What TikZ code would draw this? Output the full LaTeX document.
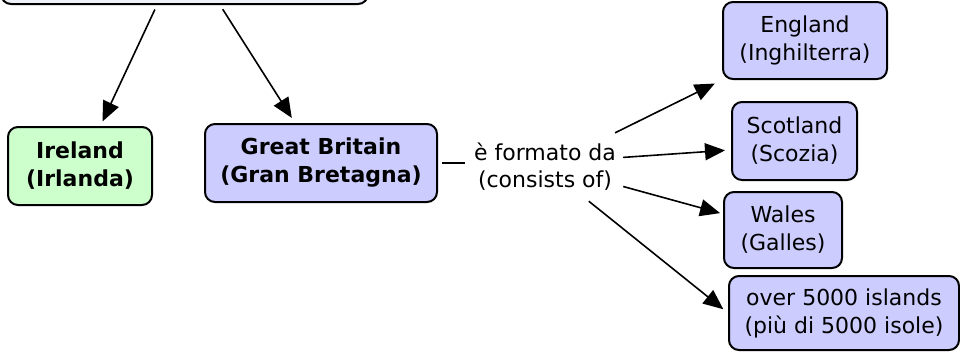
\documentclass[tikz,border=0pt]{standalone}
\usepackage{fontspec}
\setmainfont{DejaVu Sans}
\usepackage{tikz}
\usetikzlibrary{arrows.meta}

\definecolor{boxblue}{RGB}{204,204,255}
\definecolor{boxgreen}{RGB}{204,255,204}
\definecolor{boxpale}{RGB}{238,242,248}

\begin{document}
\begin{tikzpicture}
        [
          x=1pt, y=-1pt,
          box/.style={draw=black, line width=2pt, rounded corners=10pt, fill=boxblue,
            align=center, inner sep=0pt, font=\fontsize{22}{28}\selectfont},
          boldbox/.style={box, font=\fontsize{22}{28}\selectfont\bfseries},
          link/.style={line width=1.6pt, -{Triangle[length=20pt,width=17pt]}}
        ]
        \useasboundingbox (0,0) rectangle (960,351);
        \clip (0,0) rectangle (960,351);
        % concepts
        \node [box, fill=boxpale, minimum width=367pt, minimum height=64pt] (top) at (184.5,-28) {};
        \node [boldbox, fill=boxgreen, minimum width=144pt, minimum height=78pt] (ire) at (80,166) {Ireland\\(Irlanda)};
        \node [boldbox, minimum width=232pt, minimum height=78pt] (gb) at (321,163) {Great Britain\\(Gran Bretagna)};
        \node [box, minimum width=164pt, minimum height=77pt] (eng) at (805,40.5) {England\\(Inghilterra)};
        \node [box, minimum width=125pt, minimum height=78pt] (scot) at (794.5,141) {Scotland\\(Scozia)};
        \node [box, minimum width=118pt, minimum height=76pt] (wales) at (783,230) {Wales\\(Galles)};
        \node [box, minimum width=230pt, minimum height=74pt] (isl) at (844,313) {over 5000 islands\\(più di 5000 isole)};
        % linking phrase
        \node [align=center, inner sep=0pt, minimum width=156pt, minimum height=68pt,
          font=\fontsize{22}{27}\selectfont] (lab) at (545,167) {è formato da\\(consists of)};
        % links
        \draw [link, shorten <=5pt, shorten >=5pt] ([xshift=-27.5pt]top.south) -- (ire.63);
        \draw [link, shorten <=5pt, shorten >=6pt] ([xshift=35.5pt]top.south) -- (gb.123);
        \draw [line width=1.6pt, shorten <=4pt, shorten >=2pt] (gb.east) -- (gb.east -| lab.west);
        \draw [link, shorten >=8pt] (lab.26) -- (eng.south west);
        \draw [link, shorten >=6pt] (lab.7) -- (scot.188);
        \draw [link, shorten >=3pt] (lab.-14) -- (wales.165);
        \draw [link, shorten >=6pt] (lab.-38) -- (isl.west);
\end{tikzpicture}
\end{document}
